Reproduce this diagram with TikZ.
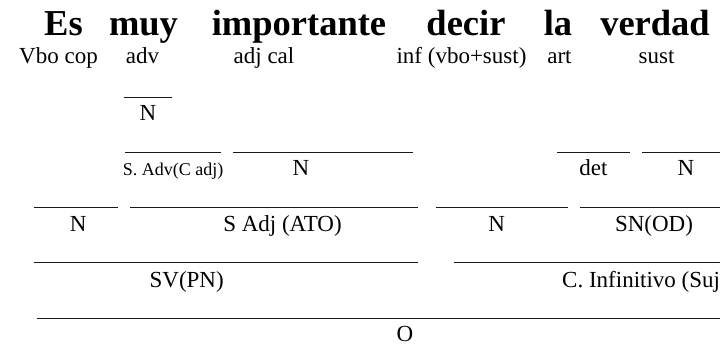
\documentclass[tikz,border=0pt]{standalone}
\usepackage{fontspec}
\setmainfont{Liberation Serif}
\begin{document}
\begin{tikzpicture}[x=1pt,y=-1pt,
  title/.style={anchor=base,inner sep=0pt,font=\fontsize{36.5}{36.5}\selectfont\bfseries},
  lab/.style={anchor=base,inner sep=0pt,font=\fontsize{23}{23}\selectfont},
  smalllab/.style={anchor=base,inner sep=0pt,font=\fontsize{18}{18}\selectfont},
  bar/.style={line width=1pt,black!90}]
\useasboundingbox (0,0) rectangle (720,346);
% title words
\node[title] (w1) at (63.5,35) {Es};
\node[title] (w2) at (143.5,35) {muy};
\node[title] (w3) at (299,35) {importante};
\node[title] (w4) at (466,35) {decir};
\node[title] (w5) at (558,35) {la};
\node[title] (w6) at (655,35) {verdad};
% word classes
\node[lab] (c1) at (58.5,63) {Vbo cop};
\node[lab] (c2) at (142.5,63) {adv};
\node[lab] (c3) at (264,63) {adj cal};
\node[lab] (c4) at (461.5,63) {inf (vbo+sust)};
\node[lab] (c5) at (559.5,63) {art};
\node[lab] (c6) at (656.5,63) {sust};
% row 1
\draw[bar] (123.5,97.5) -- (172,97.5);
\node[lab] (r1a) at (148,120) {N};
% row 2
\draw[bar] (125,152.5) -- (221,152.5);
\draw[bar] (233,152.5) -- (413,152.5);
\draw[bar] (557,152.5) -- (630,152.5);
\draw[bar] (642,152.5) -- (720,152.5);
\node[smalllab] (r2a) at (173,175) {S. Adv(C adj)};
\node[lab] (r2b) at (301,175) {N};
\node[lab] (r2c) at (593.5,175) {det};
\node[lab] (r2d) at (686,175) {N};
% row 3
\draw[bar] (33.5,207.5) -- (118,207.5);
\draw[bar] (130,207.5) -- (418,207.5);
\draw[bar] (436,207.5) -- (568,207.5);
\draw[bar] (580,207.5) -- (720,207.5);
\node[lab] (r3a) at (78.3,231.7) {N};
\node[lab] (r3b) at (282.5,231.7) {S Adj (ATO)};
\node[lab] (r3c) at (496.7,231.7) {N};
\node[lab] (r3d) at (654,231.7) {SN(OD)};
% row 4
\draw[bar] (33.5,262) -- (418,262);
\draw[bar] (454,262) -- (720,262);
\node[lab] (r4a) at (186.7,287) {SV(PN)};
\begin{scope}
\clip (0,0) rectangle (720,346);
\node[lab,anchor=base west] (r4b) at (562,287) {C. Infinitivo (Suj};
\end{scope}
% row 5
\draw[bar] (36.7,318.5) -- (720,318.5);
\node[lab] (r5a) at (405,341.5) {O};
\end{tikzpicture}
\end{document}
